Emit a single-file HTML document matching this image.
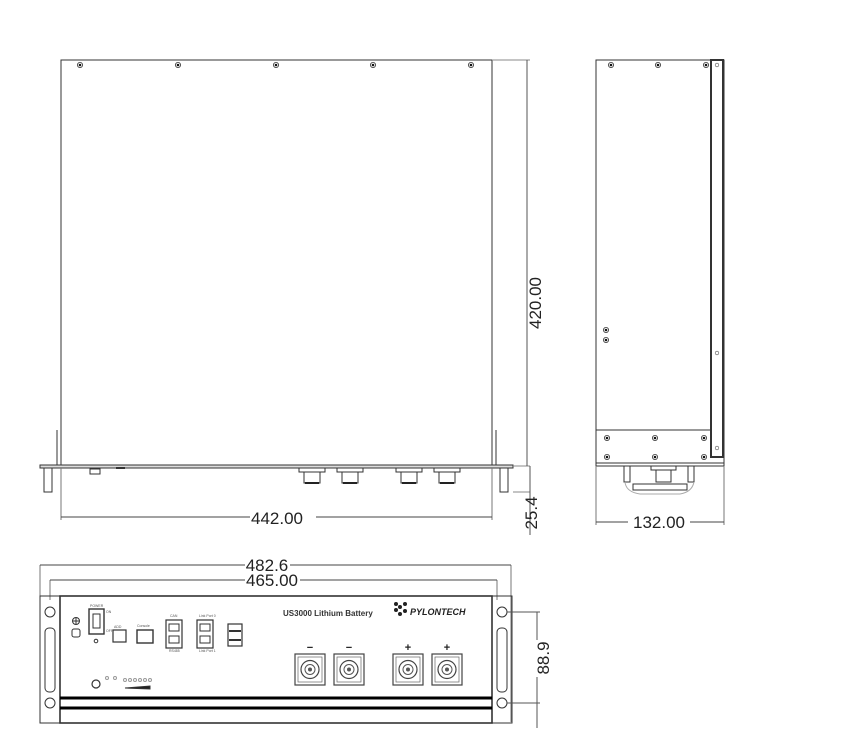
<!DOCTYPE html>
<html><head><meta charset="utf-8"><style>
html,body{margin:0;padding:0;background:#fff;}
svg{display:block;font-family:"Liberation Sans",sans-serif;}
</style></head><body>
<svg width="862" height="749" viewBox="0 0 862 749" xmlns="http://www.w3.org/2000/svg">
<defs>
<g id="scr"><circle r="2.6" fill="#fff" stroke="#333" stroke-width="0.8"/><circle r="1.3" fill="#111"/></g>
<g id="term"><rect x="0" y="0" width="30" height="31" fill="#fff" stroke="#444" stroke-width="1.2"/><rect x="3" y="3" width="24" height="25" fill="#fff" stroke="#666" stroke-width="0.7"/><circle cx="15" cy="15.5" r="9" fill="#fff" stroke="#444" stroke-width="1.2"/><circle cx="15" cy="15.5" r="5" fill="#fff" stroke="#555"/><circle cx="15" cy="15.5" r="2" fill="#555"/></g>
<g id="conn"><rect x="0" y="0" width="26" height="4" fill="#fff" stroke="#333"/><rect x="5" y="4" width="16" height="11" fill="#fff" stroke="#333"/><rect x="6" y="14" width="14" height="2" fill="#222"/></g>
</defs>
<g fill="none" stroke="#333" stroke-width="1">
<!-- TOP VIEW -->
<rect x="61" y="60" width="431" height="406"/>
<line x1="492" y1="60" x2="530" y2="60" stroke="#888"/>
<line x1="57" y1="430" x2="57" y2="467"/>
<line x1="496" y1="430" x2="496" y2="467"/>
<rect x="40" y="465" width="473" height="3" fill="#ddd"/>
<rect x="44" y="468" width="8" height="24"/><rect x="500" y="468" width="8" height="24"/>
<line x1="513" y1="466" x2="530" y2="466" stroke="#888"/>
<line x1="513" y1="492" x2="530" y2="492" stroke="#888"/>
<rect x="90" y="469" width="10" height="5"/>
<line x1="116" y1="468" x2="125" y2="468" stroke-width="2"/>
<line x1="527" y1="60" x2="527" y2="466" stroke="#555"/>
<line x1="530" y1="466" x2="530" y2="535" stroke="#555"/>
<line x1="61" y1="468" x2="61" y2="520" stroke="#777"/>
<line x1="492" y1="468" x2="492" y2="520" stroke="#777"/>
<line x1="61" y1="517" x2="250" y2="517" stroke="#444"/>
<line x1="316" y1="517" x2="492" y2="517" stroke="#444"/>
<!-- SIDE VIEW -->
<rect x="596" y="60" width="128" height="406"/>
<rect x="711" y="60" width="12" height="397" stroke-width="2"/>
<line x1="596" y1="430" x2="711" y2="430"/>
<line x1="596" y1="463" x2="724" y2="463"/>
<rect x="624" y="466" width="6" height="16"/><rect x="688" y="466" width="6" height="16"/>
<rect x="651" y="466" width="25" height="4"/><rect x="656" y="470" width="15" height="12"/>
<rect x="633" y="484" width="54" height="6"/>
<path d="M625 482 Q626 492 640 494 L680 494 Q692 492 694 482" stroke="#aaa"/>
<line x1="596" y1="466" x2="596" y2="525" stroke="#777"/>
<line x1="724" y1="466" x2="724" y2="525" stroke="#777"/>
<line x1="596" y1="522" x2="628" y2="522" stroke="#444"/>
<line x1="690" y1="522" x2="724" y2="522" stroke="#444"/>
<!-- FRONT VIEW dims -->
<line x1="40" y1="565" x2="40" y2="722" stroke="#777"/>
<line x1="511" y1="565" x2="511" y2="722" stroke="#777"/>
<line x1="40" y1="565" x2="245" y2="565" stroke="#444"/>
<line x1="290" y1="565" x2="511" y2="565" stroke="#444"/>
<line x1="50" y1="580" x2="50" y2="600" stroke="#777"/>
<line x1="497" y1="580" x2="497" y2="600" stroke="#777"/>
<line x1="50" y1="580" x2="245" y2="580" stroke="#444"/>
<line x1="300" y1="580" x2="497" y2="580" stroke="#444"/>
<!-- ears -->
<rect x="40" y="596" width="20" height="127"/>
<rect x="492" y="596" width="20" height="127"/>
<circle cx="50" cy="612" r="5"/><circle cx="50" cy="703" r="5"/>
<circle cx="502" cy="612" r="5"/><circle cx="502" cy="703" r="5"/>
<rect x="45" y="628" width="10" height="64" rx="4"/>
<rect x="497" y="628" width="10" height="64" rx="4"/>
<!-- panel -->
<rect x="60" y="596" width="432" height="127" stroke-width="1.6"/>
<line x1="60" y1="698" x2="492" y2="698" stroke-width="3" stroke="#000"/>
<line x1="60" y1="708" x2="492" y2="708" stroke-width="3" stroke="#000"/>
<line x1="507" y1="612" x2="540" y2="612" stroke="#555"/>
<line x1="507" y1="703" x2="540" y2="703" stroke="#555"/>
<line x1="537" y1="612" x2="537" y2="640" stroke="#555"/>
<line x1="537" y1="677" x2="537" y2="728" stroke="#555"/>
<!-- panel left elements -->
<circle cx="76" cy="621" r="3.5"/><line x1="72.5" y1="621" x2="79.5" y2="621"/><line x1="76" y1="617.5" x2="76" y2="624.5"/>
<rect x="72" y="629" width="8" height="8" rx="2"/>
<rect x="89" y="609" width="15" height="25" stroke-width="1.4"/><rect x="93" y="614" width="7" height="14"/>
<circle cx="96" cy="641" r="1.8"/>
<rect x="113" y="630" width="13" height="12" stroke-width="1.2"/>
<rect x="137" y="630" width="16" height="13" stroke-width="1.4"/>
<rect x="166" y="620" width="16" height="28" stroke-width="1.2"/>
<rect x="169" y="624" width="10" height="7"/><rect x="169" y="636" width="10" height="7"/>
<rect x="197" y="620" width="16" height="28" stroke-width="1.2"/>
<rect x="200" y="624" width="10" height="7"/><rect x="200" y="636" width="10" height="7"/>
<rect x="228" y="624" width="14" height="22" stroke-width="1.2"/>
<line x1="229" y1="631" x2="241" y2="631" stroke-width="2"/><line x1="229" y1="640" x2="241" y2="640" stroke-width="2"/>
<circle cx="96" cy="684" r="4" stroke-width="1.2"/>
<g stroke="#999"><circle cx="107" cy="678" r="1.5"/><circle cx="115" cy="678" r="1.5"/><circle cx="125" cy="680" r="1.5"/><circle cx="130" cy="680" r="1.5"/><circle cx="135" cy="680" r="1.5"/><circle cx="140" cy="680" r="1.5"/><circle cx="145" cy="680" r="1.5"/><circle cx="150" cy="680" r="1.5"/></g>
<path d="M125 688 L150 686 L150 689 Z" fill="#222"/>
</g>
<!-- screws -->
<use href="#scr" x="80" y="65"/><use href="#scr" x="178" y="65"/><use href="#scr" x="276" y="65"/><use href="#scr" x="373" y="65"/><use href="#scr" x="471" y="65"/>
<use href="#scr" x="611" y="65"/><use href="#scr" x="658" y="65"/><use href="#scr" x="706" y="65"/>
<use href="#scr" x="606" y="330"/><use href="#scr" x="606" y="340"/>
<use href="#scr" x="607" y="438"/><use href="#scr" x="655" y="438"/><use href="#scr" x="704" y="438"/>
<use href="#scr" x="607" y="457"/><use href="#scr" x="655" y="457"/><use href="#scr" x="704" y="457"/>
<circle cx="717" cy="65" r="1.8" fill="none" stroke="#555" stroke-width="0.6"/><circle cx="717" cy="353" r="1.8" fill="none" stroke="#555" stroke-width="0.6"/><circle cx="717" cy="448" r="1.8" fill="none" stroke="#555" stroke-width="0.6"/>
<!-- connectors -->
<use href="#conn" x="299" y="468"/><use href="#conn" x="337" y="468"/><use href="#conn" x="396" y="468"/><use href="#conn" x="434" y="468"/>
<!-- terminals -->
<use href="#term" x="295" y="654"/><use href="#term" x="334" y="654"/><use href="#term" x="393" y="654"/><use href="#term" x="432" y="654"/>
<g font-size="11" font-weight="bold" fill="#222" text-anchor="middle">
<text x="310" y="651">−</text><text x="349" y="651">−</text><text x="408" y="651">+</text><text x="447" y="651">+</text></g>
<!-- labels -->
<text x="283" y="616" font-size="8" font-weight="bold" fill="#333">US3000  Lithium Battery</text>
<g fill="#222"><circle cx="400" cy="607" r="2"/><circle cx="405" cy="604" r="2"/><circle cx="405" cy="611" r="2"/><circle cx="400" cy="614" r="2"/><circle cx="396" cy="610" r="2"/><circle cx="396" cy="604" r="2"/></g>
<text x="410" y="615" font-size="9" font-weight="bold" fill="#222" font-style="italic">PYLONTECH</text>
<g font-size="3.5" fill="#555"><text x="90" y="607">POWER</text><text x="106" y="613">ON</text><text x="106" y="632">OFF</text><text x="114" y="628">ADD</text><text x="137" y="627">Console</text><text x="170" y="617">CAN</text><text x="169" y="652">RS485</text><text x="199" y="617">Link Port 0</text><text x="199" y="652">Link Port 1</text></g>
<!-- dimension texts -->
<g font-size="17" fill="#222">
<text x="277" y="524" text-anchor="middle">442.00</text>
<text x="659" y="528" text-anchor="middle">132.00</text>
<text x="267" y="571" text-anchor="middle">482.6</text>
<text x="272" y="586" text-anchor="middle">465.00</text>
<text transform="translate(541,303) rotate(-90)" text-anchor="middle">420.00</text>
<text transform="translate(537,513) rotate(-90)" text-anchor="middle">25.4</text>
<text transform="translate(549,658) rotate(-90)" text-anchor="middle">88.9</text>
</g>
</svg>
</body></html>
